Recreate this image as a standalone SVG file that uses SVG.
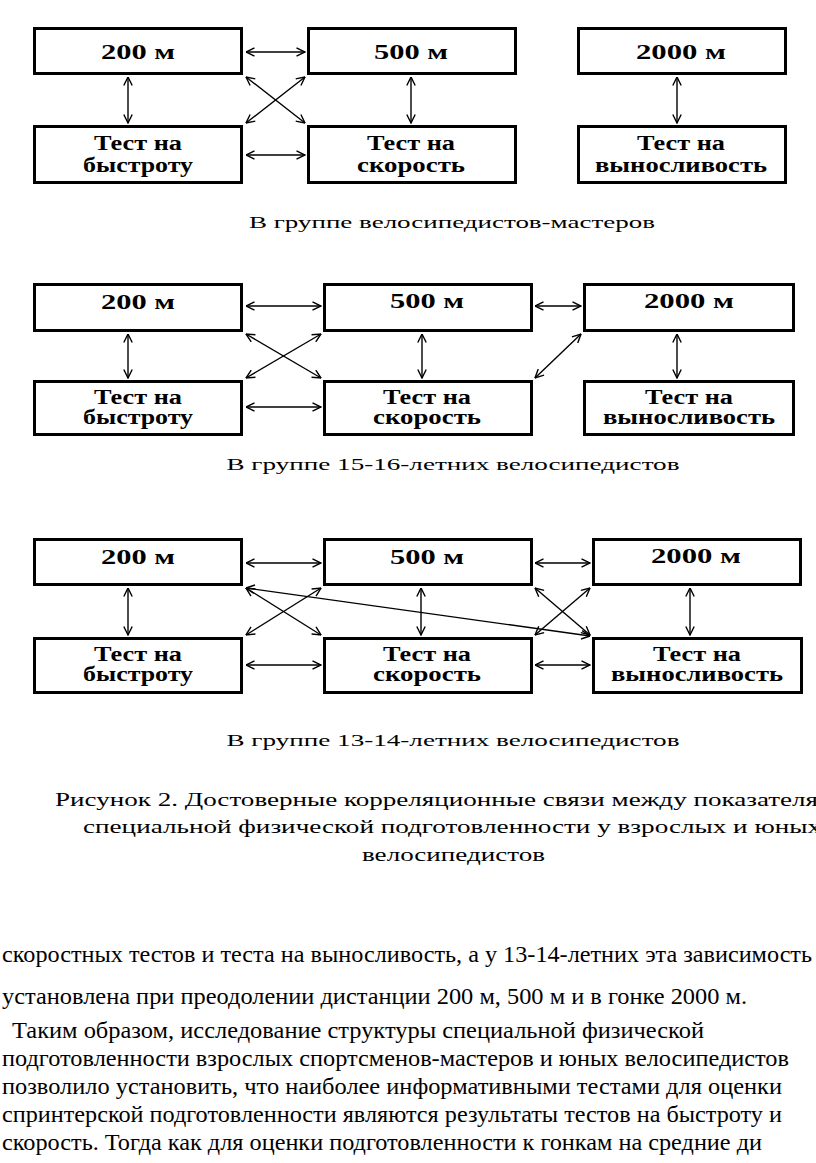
<svg xmlns="http://www.w3.org/2000/svg" width="816" height="1163" viewBox="0 0 816 1163">
<style>
.box{fill:#fff;stroke:#000;stroke-width:3}
.lbl{font-family:"Liberation Serif","Times New Roman",serif;font-weight:bold;font-size:20px;fill:#000;text-anchor:middle}
.cap{font-family:"Liberation Serif","Times New Roman",serif;font-size:17px;fill:#000;text-anchor:middle}
.fig{font-family:"Liberation Serif","Times New Roman",serif;font-size:18px;fill:#000}
.body{font-family:"Liberation Serif","Times New Roman",serif;font-size:24px;fill:#000}
.conn line{stroke:#000;stroke-width:1.4;marker-start:url(#ah);marker-end:url(#ah)}
</style>
<defs>
<marker id="ah" viewBox="0 0 10 10" refX="9.5" refY="5" markerWidth="10" markerHeight="10" markerUnits="userSpaceOnUse" orient="auto-start-reverse">
<path d="M1,0.8 L9.5,5 L1,9.2" fill="none" stroke="#000" stroke-width="1.4"/>
</marker>
</defs>
<rect width="816" height="1163" fill="#fff"/>

<!-- Diagram 1 -->
<g id="d1-200"><rect class="box" x="34.5" y="28.5" width="207" height="45"/><text class="lbl" x="138" y="59" textLength="74" lengthAdjust="spacingAndGlyphs">200 м</text></g>
<g id="d1-500"><rect class="box" x="308.5" y="28.5" width="207" height="45"/><text class="lbl" x="411" y="59" textLength="74" lengthAdjust="spacingAndGlyphs">500 м</text></g>
<g id="d1-2000"><rect class="box" x="578.5" y="28.5" width="207" height="45"/><text class="lbl" x="681" y="59" textLength="90" lengthAdjust="spacingAndGlyphs">2000 м</text></g>
<g id="d1-bys"><rect class="box" x="34.5" y="126.5" width="207" height="56"/><text class="lbl" x="138" y="150" textLength="88" lengthAdjust="spacingAndGlyphs">Тест на</text><text class="lbl" x="138" y="172" textLength="110" lengthAdjust="spacingAndGlyphs">быстроту</text></g>
<g id="d1-sko"><rect class="box" x="308.5" y="126.5" width="207" height="56"/><text class="lbl" x="411" y="150" textLength="88" lengthAdjust="spacingAndGlyphs">Тест на</text><text class="lbl" x="411" y="172" textLength="108" lengthAdjust="spacingAndGlyphs">скорость</text></g>
<g id="d1-vyn"><rect class="box" x="578.5" y="126.5" width="207" height="56"/><text class="lbl" x="681" y="150" textLength="88" lengthAdjust="spacingAndGlyphs">Тест на</text><text class="lbl" x="681" y="172" textLength="172" lengthAdjust="spacingAndGlyphs">выносливость</text></g>
<g id="d1-conn" class="conn">
<line x1="246" y1="52" x2="305" y2="52"/>
<line x1="246" y1="155" x2="305" y2="155"/>
<line x1="128" y1="77" x2="128" y2="123"/>
<line x1="411" y1="77" x2="411" y2="123"/>
<line x1="677" y1="77" x2="677" y2="123"/>
<line x1="246" y1="77" x2="305" y2="123"/>
<line x1="305" y1="77" x2="246" y2="123"/>
</g>
<text class="cap" x="452" y="228" textLength="406" lengthAdjust="spacingAndGlyphs">В группе велосипедистов-мастеров</text>

<!-- Diagram 2 -->
<g id="d2-200"><rect class="box" x="34.5" y="284.5" width="207" height="46"/><text class="lbl" x="138" y="309" textLength="74" lengthAdjust="spacingAndGlyphs">200 м</text></g>
<g id="d2-500"><rect class="box" x="324.5" y="284.5" width="207" height="46"/><text class="lbl" x="427" y="308" textLength="74" lengthAdjust="spacingAndGlyphs">500 м</text></g>
<g id="d2-2000"><rect class="box" x="584.5" y="284.5" width="209" height="46"/><text class="lbl" x="689" y="308" textLength="90" lengthAdjust="spacingAndGlyphs">2000 м</text></g>
<g id="d2-bys"><rect class="box" x="34.5" y="381.5" width="207" height="53"/><text class="lbl" x="138" y="404" textLength="88" lengthAdjust="spacingAndGlyphs">Тест на</text><text class="lbl" x="138" y="424" textLength="110" lengthAdjust="spacingAndGlyphs">быстроту</text></g>
<g id="d2-sko"><rect class="box" x="324.5" y="381.5" width="207" height="53"/><text class="lbl" x="427" y="404" textLength="88" lengthAdjust="spacingAndGlyphs">Тест на</text><text class="lbl" x="427" y="424" textLength="108" lengthAdjust="spacingAndGlyphs">скорость</text></g>
<g id="d2-vyn"><rect class="box" x="584.5" y="381.5" width="209" height="53"/><text class="lbl" x="689" y="404" textLength="88" lengthAdjust="spacingAndGlyphs">Тест на</text><text class="lbl" x="689" y="424" textLength="172" lengthAdjust="spacingAndGlyphs">выносливость</text></g>
<g id="d2-conn" class="conn">
<line x1="246" y1="306" x2="321" y2="306"/>
<line x1="535" y1="306" x2="581" y2="306"/>
<line x1="246" y1="407" x2="321" y2="407"/>
<line x1="128" y1="334" x2="128" y2="378"/>
<line x1="422" y1="334" x2="422" y2="378"/>
<line x1="677" y1="334" x2="677" y2="378"/>
<line x1="246" y1="334" x2="321" y2="378"/>
<line x1="321" y1="334" x2="246" y2="378"/>
<line x1="581" y1="334" x2="535" y2="378"/>
</g>
<text class="cap" x="453" y="470" textLength="453" lengthAdjust="spacingAndGlyphs">В группе 15-16-летних велосипедистов</text>

<!-- Diagram 3 -->
<g id="d3-200"><rect class="box" x="34.5" y="539.5" width="207" height="45"/><text class="lbl" x="138" y="564" textLength="74" lengthAdjust="spacingAndGlyphs">200 м</text></g>
<g id="d3-500"><rect class="box" x="324.5" y="539.5" width="207" height="45"/><text class="lbl" x="427" y="564" textLength="74" lengthAdjust="spacingAndGlyphs">500 м</text></g>
<g id="d3-2000"><rect class="box" x="593.5" y="539.5" width="207" height="45"/><text class="lbl" x="696" y="563" textLength="90" lengthAdjust="spacingAndGlyphs">2000 м</text></g>
<g id="d3-bys"><rect class="box" x="34.5" y="638.5" width="207" height="54"/><text class="lbl" x="138" y="661" textLength="88" lengthAdjust="spacingAndGlyphs">Тест на</text><text class="lbl" x="138" y="681" textLength="110" lengthAdjust="spacingAndGlyphs">быстроту</text></g>
<g id="d3-sko"><rect class="box" x="324.5" y="638.5" width="207" height="54"/><text class="lbl" x="427" y="661" textLength="88" lengthAdjust="spacingAndGlyphs">Тест на</text><text class="lbl" x="427" y="681" textLength="108" lengthAdjust="spacingAndGlyphs">скорость</text></g>
<g id="d3-vyn"><rect class="box" x="593.5" y="638.5" width="208" height="54"/><text class="lbl" x="697" y="661" textLength="88" lengthAdjust="spacingAndGlyphs">Тест на</text><text class="lbl" x="697" y="681" textLength="172" lengthAdjust="spacingAndGlyphs">выносливость</text></g>
<g id="d3-conn" class="conn">
<line x1="246" y1="563" x2="321" y2="563"/>
<line x1="535" y1="563" x2="590" y2="563"/>
<line x1="246" y1="665" x2="321" y2="665"/>
<line x1="535" y1="665" x2="590" y2="665"/>
<line x1="128" y1="588" x2="128" y2="635"/>
<line x1="421" y1="588" x2="421" y2="635"/>
<line x1="690" y1="588" x2="690" y2="635"/>
<line x1="246" y1="588" x2="321" y2="635"/>
<line x1="321" y1="588" x2="246" y2="635"/>
<line x1="535" y1="588" x2="590" y2="635"/>
<line x1="590" y1="588" x2="535" y2="635"/>
<line x1="246" y1="588" x2="590" y2="636"/>
</g>
<text class="cap" x="453" y="746" textLength="453" lengthAdjust="spacingAndGlyphs">В группе 13-14-летних велосипедистов</text>

<!-- Figure caption -->
<text class="fig" x="55" y="806" textLength="763" lengthAdjust="spacingAndGlyphs">Рисунок 2. Достоверные корреляционные связи между показателя</text>
<text class="fig" x="83" y="833" textLength="738" lengthAdjust="spacingAndGlyphs">специальной физической подготовленности у взрослых и юных</text>
<text class="fig" x="362" y="861" textLength="183" lengthAdjust="spacingAndGlyphs">велосипедистов</text>

<!-- Body text -->
<text class="body" x="2" y="962" textLength="810" lengthAdjust="spacingAndGlyphs">скоростных тестов и теста на выносливость, а у 13-14-летних эта зависимость</text>
<text class="body" x="2" y="1004" textLength="745" lengthAdjust="spacingAndGlyphs">установлена при преодолении дистанции 200 м, 500 м и в гонке 2000 м.</text>
<text class="body" x="12" y="1038" textLength="692" lengthAdjust="spacingAndGlyphs">Таким образом, исследование структуры специальной физической</text>
<text class="body" x="2" y="1066" textLength="787" lengthAdjust="spacingAndGlyphs">подготовленности взрослых спортсменов-мастеров и юных велосипедистов</text>
<text class="body" x="2" y="1094" textLength="780" lengthAdjust="spacingAndGlyphs">позволило установить, что наиболее информативными тестами для оценки</text>
<text class="body" x="2" y="1122" textLength="780" lengthAdjust="spacingAndGlyphs">спринтерской подготовленности являются результаты тестов на быстроту и</text>
<text class="body" x="2" y="1150" textLength="760" lengthAdjust="spacingAndGlyphs">скорость. Тогда как для оценки подготовленности к гонкам на средние ди</text>
</svg>
